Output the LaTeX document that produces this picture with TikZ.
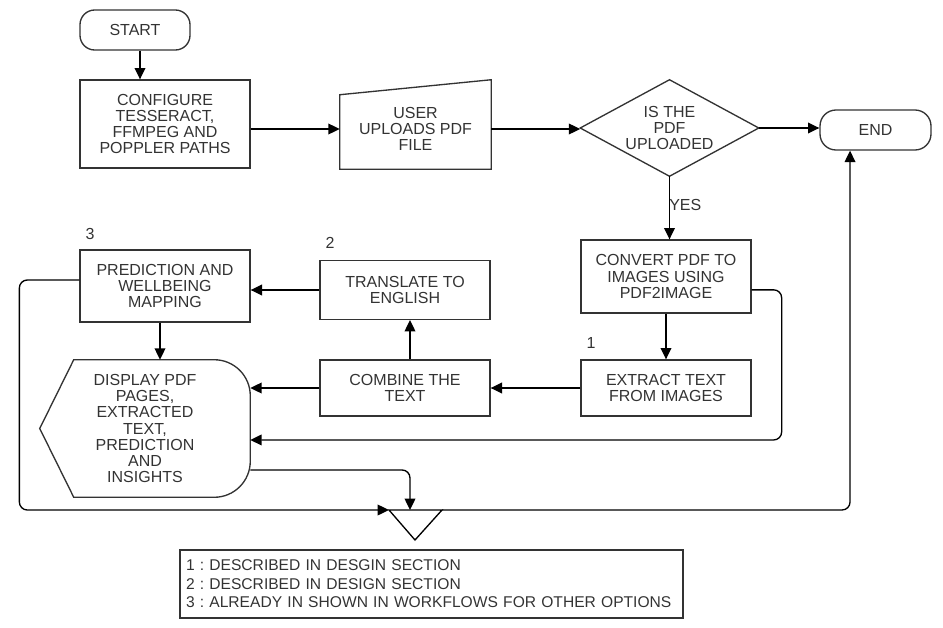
\documentclass[tikz,border=0pt]{standalone}
\usepackage{fontspec}
\setmainfont{Liberation Sans}
\usetikzlibrary{arrows.meta,calc}
\frenchspacing
\begin{document}
\begin{tikzpicture}[x=0.75pt,y=-0.75pt,
  every node/.style={font=\fontsize{12}{12.2}\selectfont, text=black!80},
  box/.style={draw=black!80, line width=1pt, align=center, inner sep=0pt, minimum width=127.5pt},
  ghost/.style={align=center, inner sep=0pt},
  shapeline/.style={draw=black!80, line width=1pt},
  conn/.style={draw=black, line width=1pt, -{Triangle[length=8.5pt,width=8pt]}},
  link/.style={draw=black, line width=1pt},
  lbl/.style={inner sep=0pt}]
\useasboundingbox (0,0) rectangle (943,628);

% nodes
\node[box, rounded corners=11pt, minimum width=82.5pt, minimum height=30pt] (start) at (135,30) {START};
\node[box, minimum height=66pt] (cfg) at (165,124) {CONFIGURE\\TESSERACT,\\FFMPEG AND\\POPPLER PATHS};
\node[ghost, minimum width=113.25pt, minimum height=60pt] (upl) at (415.5,129) {USER\\UPLOADS PDF\\FILE};
\draw[shapeline] (upl.south west) -- ([yshift=-4.5pt]upl.north west) -- ([yshift=6.75pt]upl.north east) -- (upl.south east) -- cycle;
\node[ghost, minimum width=133.5pt, minimum height=72pt] (dia) at (669.5,128) {IS THE\\PDF\\UPLOADED};
\draw[shapeline] (dia.west) -- (dia.north) -- (dia.east) -- (dia.south) -- cycle;
\node[box, rounded corners=12pt, minimum width=83.25pt, minimum height=30pt] (end) at (875.5,130) {END};
\node[box, minimum height=54.75pt] (cnv) at (666,276.5) {CONVERT PDF TO\\IMAGES USING\\PDF2IMAGE};
\node[box, minimum height=42pt] (ext) at (666,388) {EXTRACT TEXT\\FROM IMAGES};
\node[box, minimum height=42pt] (cmb) at (405,388) {COMBINE THE\\TEXT};
\node[box, minimum height=44pt] (trn) at (405,290) {TRANSLATE TO\\ENGLISH};
\node[box, minimum height=54pt] (prd) at (165,286) {PREDICTION AND\\WELLBEING\\MAPPING};
\node[ghost, minimum width=157.5pt, minimum height=102.75pt] (dsp) at (145,428.5) {DISPLAY PDF\\PAGES,\\EXTRACTED\\TEXT,\\PREDICTION\\AND\\INSIGHTS};
\draw[shapeline] (dsp.west) -- ($(dsp.north west)+(34,0)$) -- ($(dsp.north east)+(-36,0)$)
  arc[start angle=90,end angle=0,radius=27pt] -- ($(dsp.south east)+(0,-36)$)
  arc[start angle=0,end angle=-90,radius=27pt] -- ($(dsp.south west)+(34,0)$) -- cycle;

% merge
\coordinate (mrgL) at (389,510);
\coordinate (mrgR) at (442,510);
\coordinate (mrgB) at (415,540);
\coordinate (mrgT) at (410,510);
\draw[shapeline, draw=black] (mrgL) -- (mrgR) -- (mrgB) -- cycle;

% legend
\node[draw=black!80, line width=1pt, align=left, inner xsep=4.5pt, inner ysep=0pt,
  minimum width=377.25pt, minimum height=51pt, text width=368.25pt,
  font=\fontsize{11.7}{13.9}\selectfont] (leg) at (431.5,584)
  {1 : DESCRIBED IN DESGIN SECTION\\2 : DESCRIBED IN DESIGN SECTION\\3 : ALREADY IN SHOWN IN WORKFLOWS FOR OTHER OPTIONS};

% labels
\node[lbl] (n3) at (90,234) {3};
\node[lbl] (n2) at (330,243) {2};
\node[lbl] (n1) at (591,343) {1};
\node[lbl, anchor=west] (yes) at (669,205) {YES};

% connectors
\draw[conn] ([xshift=3.75pt]start.south) -- ([xshift=3.75pt]start.south |- cfg.north);
\draw[conn] (cfg.east |- upl) -- (upl.west);
\draw[conn] (upl.east) -- (upl.east -| dia.west);
\draw[conn] (dia.east) -- (dia.east -| end.west);
\draw[conn] (dia.south) -- (dia.south |- cnv.north);
\draw[conn] (cnv.south) -- (ext.north);
\draw[conn] (ext.west) -- (cmb.east);
\draw[conn] ([xshift=3.75pt]cmb.north) -- ([xshift=3.75pt]trn.south);
\draw[conn] (trn.west) -- (trn.west -| prd.east);
\draw[conn] ([xshift=-3.75pt]prd.south) -- ([xshift=-3.75pt]prd.south |- dsp.north);
\draw[conn] (cmb.west) -- (cmb.west -| dsp.east);
\draw[conn, rounded corners=6pt] ([yshift=-10pt]cnv.east) -- ++(30,0) |- ([yshift=-8.6pt]dsp.east);
\draw[conn, rounded corners=6pt] ([yshift=-31.1pt]dsp.east) -| (mrgT);
\draw[conn, rounded corners=6pt] ([yshift=4.5pt]prd.west) -- ++(-60,0) |- (mrgL);
\draw[link, -{Triangle[length=8.5pt,width=8pt]}, rounded corners=6pt] (mrgR) -| ([xshift=-19.1pt]end.south);
\end{tikzpicture}
\end{document}
